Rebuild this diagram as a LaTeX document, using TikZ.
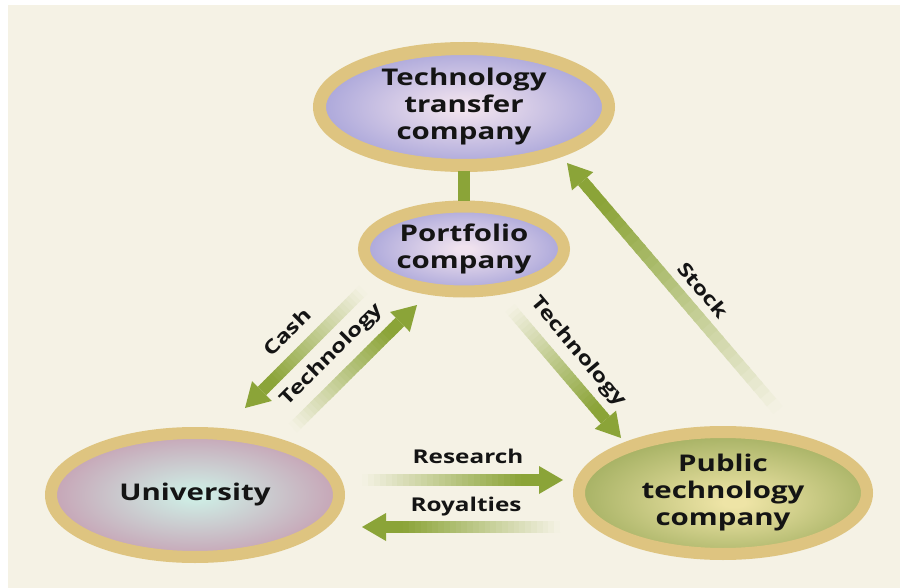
\documentclass[tikz,border=0pt]{standalone}
\usepackage{fontspec}
\newfontfamily\nf{Open Sans}[FakeStretch=1.28]
\usetikzlibrary{shapes.geometric,calc}
\definecolor{bg}{RGB}{245,242,229}
\definecolor{ringcol}{RGB}{222,196,128}
\definecolor{ttcin}{RGB}{240,226,238}
\definecolor{ttcout}{RGB}{156,154,214}
\definecolor{uniin}{RGB}{206,236,228}
\definecolor{uniout}{RGB}{198,158,178}
\definecolor{pubin}{RGB}{238,228,166}
\definecolor{pubout}{RGB}{164,176,98}
\definecolor{arrowgreen}{RGB}{139,164,56}
\definecolor{txt}{RGB}{20,20,20}
\pgfdeclareradialshading{ttcsh}{\pgfpoint{0bp}{0bp}}{color(0bp)=(ttcin); color(2bp)=(ttcin); color(30bp)=(ttcout); color(50bp)=(ttcout)}
\pgfdeclareradialshading{unish}{\pgfpoint{0bp}{0bp}}{color(0bp)=(uniin); color(2bp)=(uniin); color(27bp)=(uniout); color(50bp)=(uniout)}
\pgfdeclareradialshading{pubsh}{\pgfpoint{2bp}{-4bp}}{color(0bp)=(pubin); color(2bp)=(pubin); color(27bp)=(pubout); color(50bp)=(pubout)}
\tikzset{
  orb/.style={ellipse, draw=ringcol, line width=12pt, inner sep=0pt, shade, align=center, text=txt,
    font=\nf\bfseries\fontsize{23}{27}\selectfont},
  lbl/.style={inner sep=0pt, text=txt, font=\nf\bfseries\fontsize{19}{22}\selectfont},
  arrshaft/.style={line width=12pt},
  bar/.style={draw=arrowgreen, line width=12pt},
}
\newcommand{\fadearrow}[2]{%
  \coordinate (H) at ($(#2)!24pt!(#1)$);
  \foreach \k in {0,...,29}{%
    \pgfmathsetmacro{\fa}{\k/30}%
    \pgfmathsetmacro{\fb}{min(1,(\k+1.3)/30)}%
    \pgfmathsetmacro{\fc}{min(100,100*(\k+0.5)/27)}%
    \draw[arrshaft, draw=arrowgreen!\fc!bg] ($(#1)!\fa!(H)$) -- ($(#1)!\fb!(H)$);
  }
  \fill[arrowgreen] (#2) -- ($(H)!14pt!90:(#2)$) -- ($(H)!14pt!-90:(#2)$) -- cycle;
}
\begin{document}
\begin{tikzpicture}[x=1pt,y=-1pt]
\useasboundingbox (0,0) rectangle (900,588);
\fill[white] (0,0) rectangle (900,588);
\fill[bg] (8,5) rectangle (900,588);

% nodes
\node[orb, line width=13pt, shading=ttcsh, minimum width=289pt, minimum height=117pt] (ttc) at (464,107) {Technology\\transfer\\company};
\node[orb, shading=ttcsh, minimum width=200pt, minimum height=85pt] (port) at (464,249) {Portfolio\\company};
\node[orb, shading=unish, minimum width=288pt, minimum height=124pt] (uni) at (195,495) {University};
\node[orb, shading=pubsh, minimum width=288pt, minimum height=122pt] (pub) at (723,493) {Public\\technology\\company};

\draw[bar, shorten <=-1pt, shorten >=-1pt] (ttc.south) -- (port.north);

% arrow end points
\coordinate (cashT) at (363,290);  \coordinate (cashE) at (245,408);
\coordinate (techLT) at (293,428); \coordinate (techLE) at (417,305);
\coordinate (techRT) at (510,308); \coordinate (techRE) at (621,438);
\coordinate (stockT) at (778,410); \coordinate (stockE) at (567,163);
\coordinate (resT) at (362,480);   \coordinate (resE) at (563,480);
\coordinate (royT) at (560,527);   \coordinate (royE) at (362,527);

\fadearrow{cashT}{cashE}
\fadearrow{techLT}{techLE}
\fadearrow{techRT}{techRE}
\fadearrow{stockT}{stockE}
\fadearrow{resT}{resE}
\fadearrow{royT}{royE}

% labels
\node[lbl, rotate=45] (cashlbl) at (287,332) {Cash};
\node[lbl, rotate=45] (techLlbl) at (332,355) {Technology};
\node[lbl, rotate=-50] (techRlbl) at (578,352) {Technology};
\node[lbl, rotate=-50] (stocklbl) at (703,290) {Stock};
\node[lbl] (reslbl) at (468,456) {Research};
\node[lbl] (roylbl) at (466,507) {Royalties};
\end{tikzpicture}
\end{document}
